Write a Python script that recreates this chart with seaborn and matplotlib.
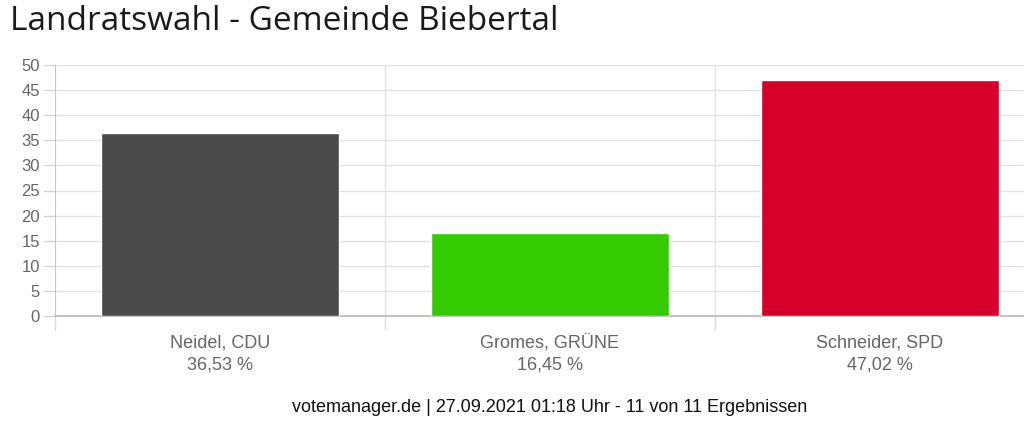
import matplotlib
matplotlib.use("Agg")
import matplotlib.pyplot as plt
import matplotlib.transforms as mtransforms
import seaborn as sns
import pandas as pd

candidates = ["Neidel, CDU", "Gromes, GRÜNE", "Schneider, SPD"]
shares = [36.53, 16.45, 47.02]
share_labels = ["36,53 %", "16,45 %", "47,02 %"]
colors = ["#4a4a4a", "#33cc00", "#d6002a"]
yticks = [0, 5, 10, 15, 20, 25, 30, 35, 40, 45, 50]
title = "Landratswahl - Gemeinde Biebertal"
footer = "votemanager.de | 27.09.2021 01:18 Uhr - 11 von 11 Ergebnissen"

sns.set_style("white")
plt.rcParams['font.family'] = ['Liberation Sans', 'DejaVu Sans']

df = pd.DataFrame({"candidate": candidates, "share": shares})

fig = plt.figure(figsize=(10.24, 4.29), dpi=100)
ax = fig.add_axes([55 / 1024, 113 / 429, 990 / 1024, 251 / 429])

sns.barplot(data=df, x="candidate", y="share", hue="candidate",
            palette=colors, saturation=1, width=0.72, legend=False, ax=ax,
            zorder=3)

ax.set_ylim(0, 50)
ax.set_xlim(-0.5, 2.5)
ax.set_yticks(yticks)
ax.set_yticklabels([str(v) for v in yticks])
ax.set_xticks(range(len(candidates)))
ax.set_xticklabels([])
ax.set_xticks([i - 0.5 for i in range(len(candidates) + 1)], minor=True)
ax.set_xlabel("")
ax.set_ylabel("")

for s in ["top", "right", "left"]:
    ax.spines[s].set_visible(False)
ax.spines["bottom"].set_color("#b8b8b8")
ax.spines["bottom"].set_linewidth(1.2)

ax.grid(True, axis="y", which="major", color="#e3e3e3", linewidth=1.0, zorder=0)
ax.grid(True, axis="x", which="minor", color="#e3e3e3", linewidth=1.0, zorder=0)
ax.grid(False, axis="x", which="major")

ax.tick_params(axis="y", which="major", left=True, length=8.6, width=1,
               color="#d6d6d6", labelsize=12, labelcolor="#666666", pad=2.2)
ax.tick_params(axis="x", which="major", bottom=False, length=0)
ax.tick_params(axis="x", which="minor", bottom=True, length=10, width=1,
               color="#dcdcdc")

# left axis line
ax.axvline(-0.5, color="#c0c0c0", linewidth=1.2, zorder=4)

# category labels below axis
trans = mtransforms.blended_transform_factory(ax.transData, fig.transFigure)
for i, (c, s) in enumerate(zip(candidates, share_labels)):
    ax.text(i, 1 - 348 / 429, c, transform=trans, ha="center", va="baseline",
            fontsize=13, color="#666666")
    ax.text(i, 1 - 369 / 429, s, transform=trans, ha="center", va="baseline",
            fontsize=13, color="#666666")

fig.text(10 / 1024, 1 - 22 / 429, title, fontsize=24, color="#1a1a1a",
         family=["Open Sans", "DejaVu Sans"], va="center", ha="left")
fig.text(550 / 1024, 1 - 408 / 429, footer, fontsize=13, color="#111111",
         va="center", ha="center")

fig.savefig("out.png", dpi=100)
